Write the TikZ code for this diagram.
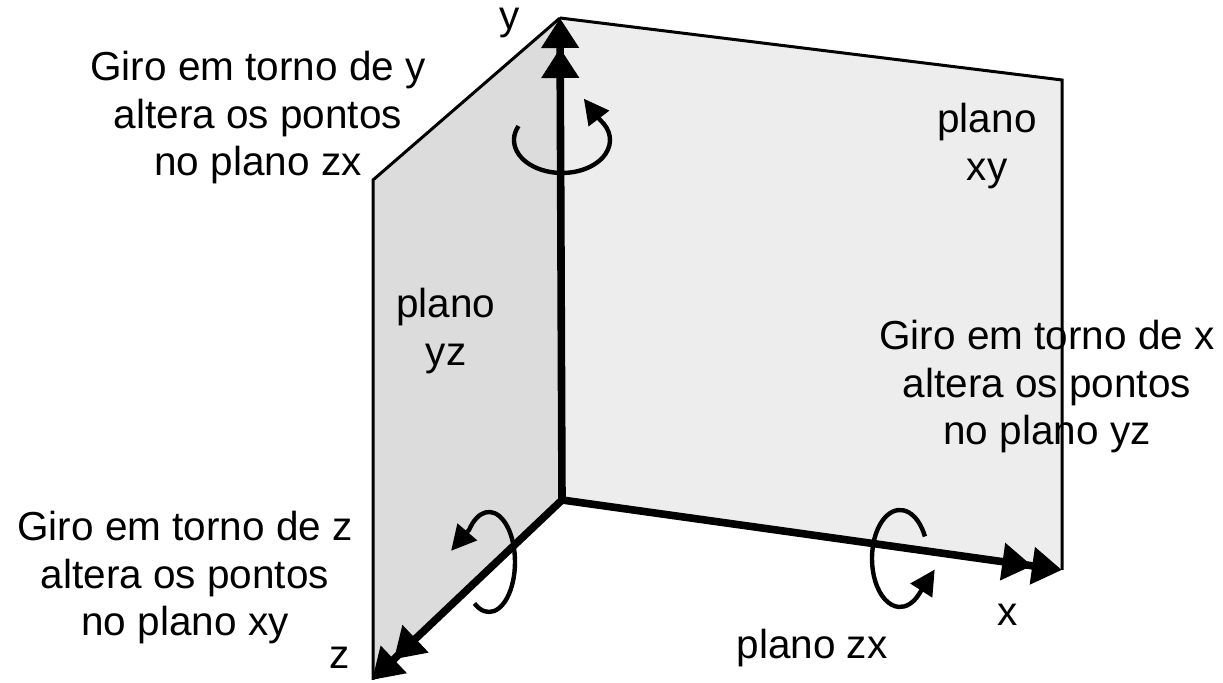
\documentclass[tikz,border=0pt]{standalone}
\usepackage{fontspec}
\setmainfont{Liberation Sans}
\usetikzlibrary{arrows.meta}
\definecolor{yzfill}{HTML}{DCDCDC}
\definecolor{xyfill}{HTML}{EDEDED}
\begin{document}
\begin{tikzpicture}[x=0.5pt,y=0.5pt,
  lbl/.style={font=\fontsize{20.25}{23.75}\selectfont, align=center, inner sep=0pt},
  axis/.style={line width=3.8pt, -{Triangle[length=15pt,width=18pt]Triangle[length=15pt,width=18pt]}},
  plane/.style={draw=black, line width=1.5pt, line join=miter},
  rot/.style={line width=2.2pt, -{Triangle[length=12.5pt,width=12.5pt]}}
]
\useasboundingbox (0,0) rectangle (1223,683);
\coordinate (O) at (562,183);
\coordinate (Ytip) at (560,665);
\coordinate (Xtip) at (1062,113);
\coordinate (Ztip) at (372,3);
\coordinate (yzTL) at (373,503);
\coordinate (yzBL) at (373,3);
\coordinate (xyTR) at (1062,603);
\coordinate (cy) at (562,543);
\coordinate (cz) at (489,121);
\coordinate (cx) at (900,124.5);
% planes
\fill[yzfill] (Ytip) -- (yzTL) -- (yzBL) -- (O) -- cycle;
\draw[plane] (Ytip) -- (yzTL) -- (yzBL);
\fill[xyfill] (Ytip) -- (xyTR) -- (Xtip) -- (O) -- cycle;
\draw[plane] (Ytip) -- (xyTR) -- (Xtip);
% axes
\draw[axis] (O) -- (Ytip);
\draw[axis] (O) -- (Xtip);
\draw[axis] (O) -- (Ztip);
\fill (O) circle[radius=3.8];
% rotation arrows
\draw[rot] (cy) ++(155:48 and 33) arc[start angle=155, end angle=398, x radius=48, y radius=33] -- ++(-16,21);
\draw[rot] (cz) ++(236:26 and 50) arc[start angle=236, end angle=500, x radius=26, y radius=50] -- ++(-18,-21);
\draw[rot] (cx) ++(27:28 and 48.5) arc[start angle=27, end angle=312, x radius=28, y radius=48.5] -- ++(16,25);
% labels
\node[lbl] (giroY) at (258,565) {Giro em torno de y\\altera os pontos\\no plano zx};
\node[lbl] (giroX) at (1047,296) {Giro em torno de x\\altera os pontos\\no plano yz};
\node[lbl] (giroZ) at (185,105) {Giro em torno de z\\altera os pontos\\no plano xy};
\node[lbl] (planoXY) at (987,537) {plano\\xy};
\node[lbl] (planoYZ) at (446,352) {plano\\yz};
\node[lbl] (planoZX) at (812,35) {plano zx};
\node[lbl] (ylab) at (510,660) {y};
\node[lbl] (xlab) at (1008,68) {x};
\node[lbl] (zlab) at (340,25) {z};
\end{tikzpicture}
\end{document}
